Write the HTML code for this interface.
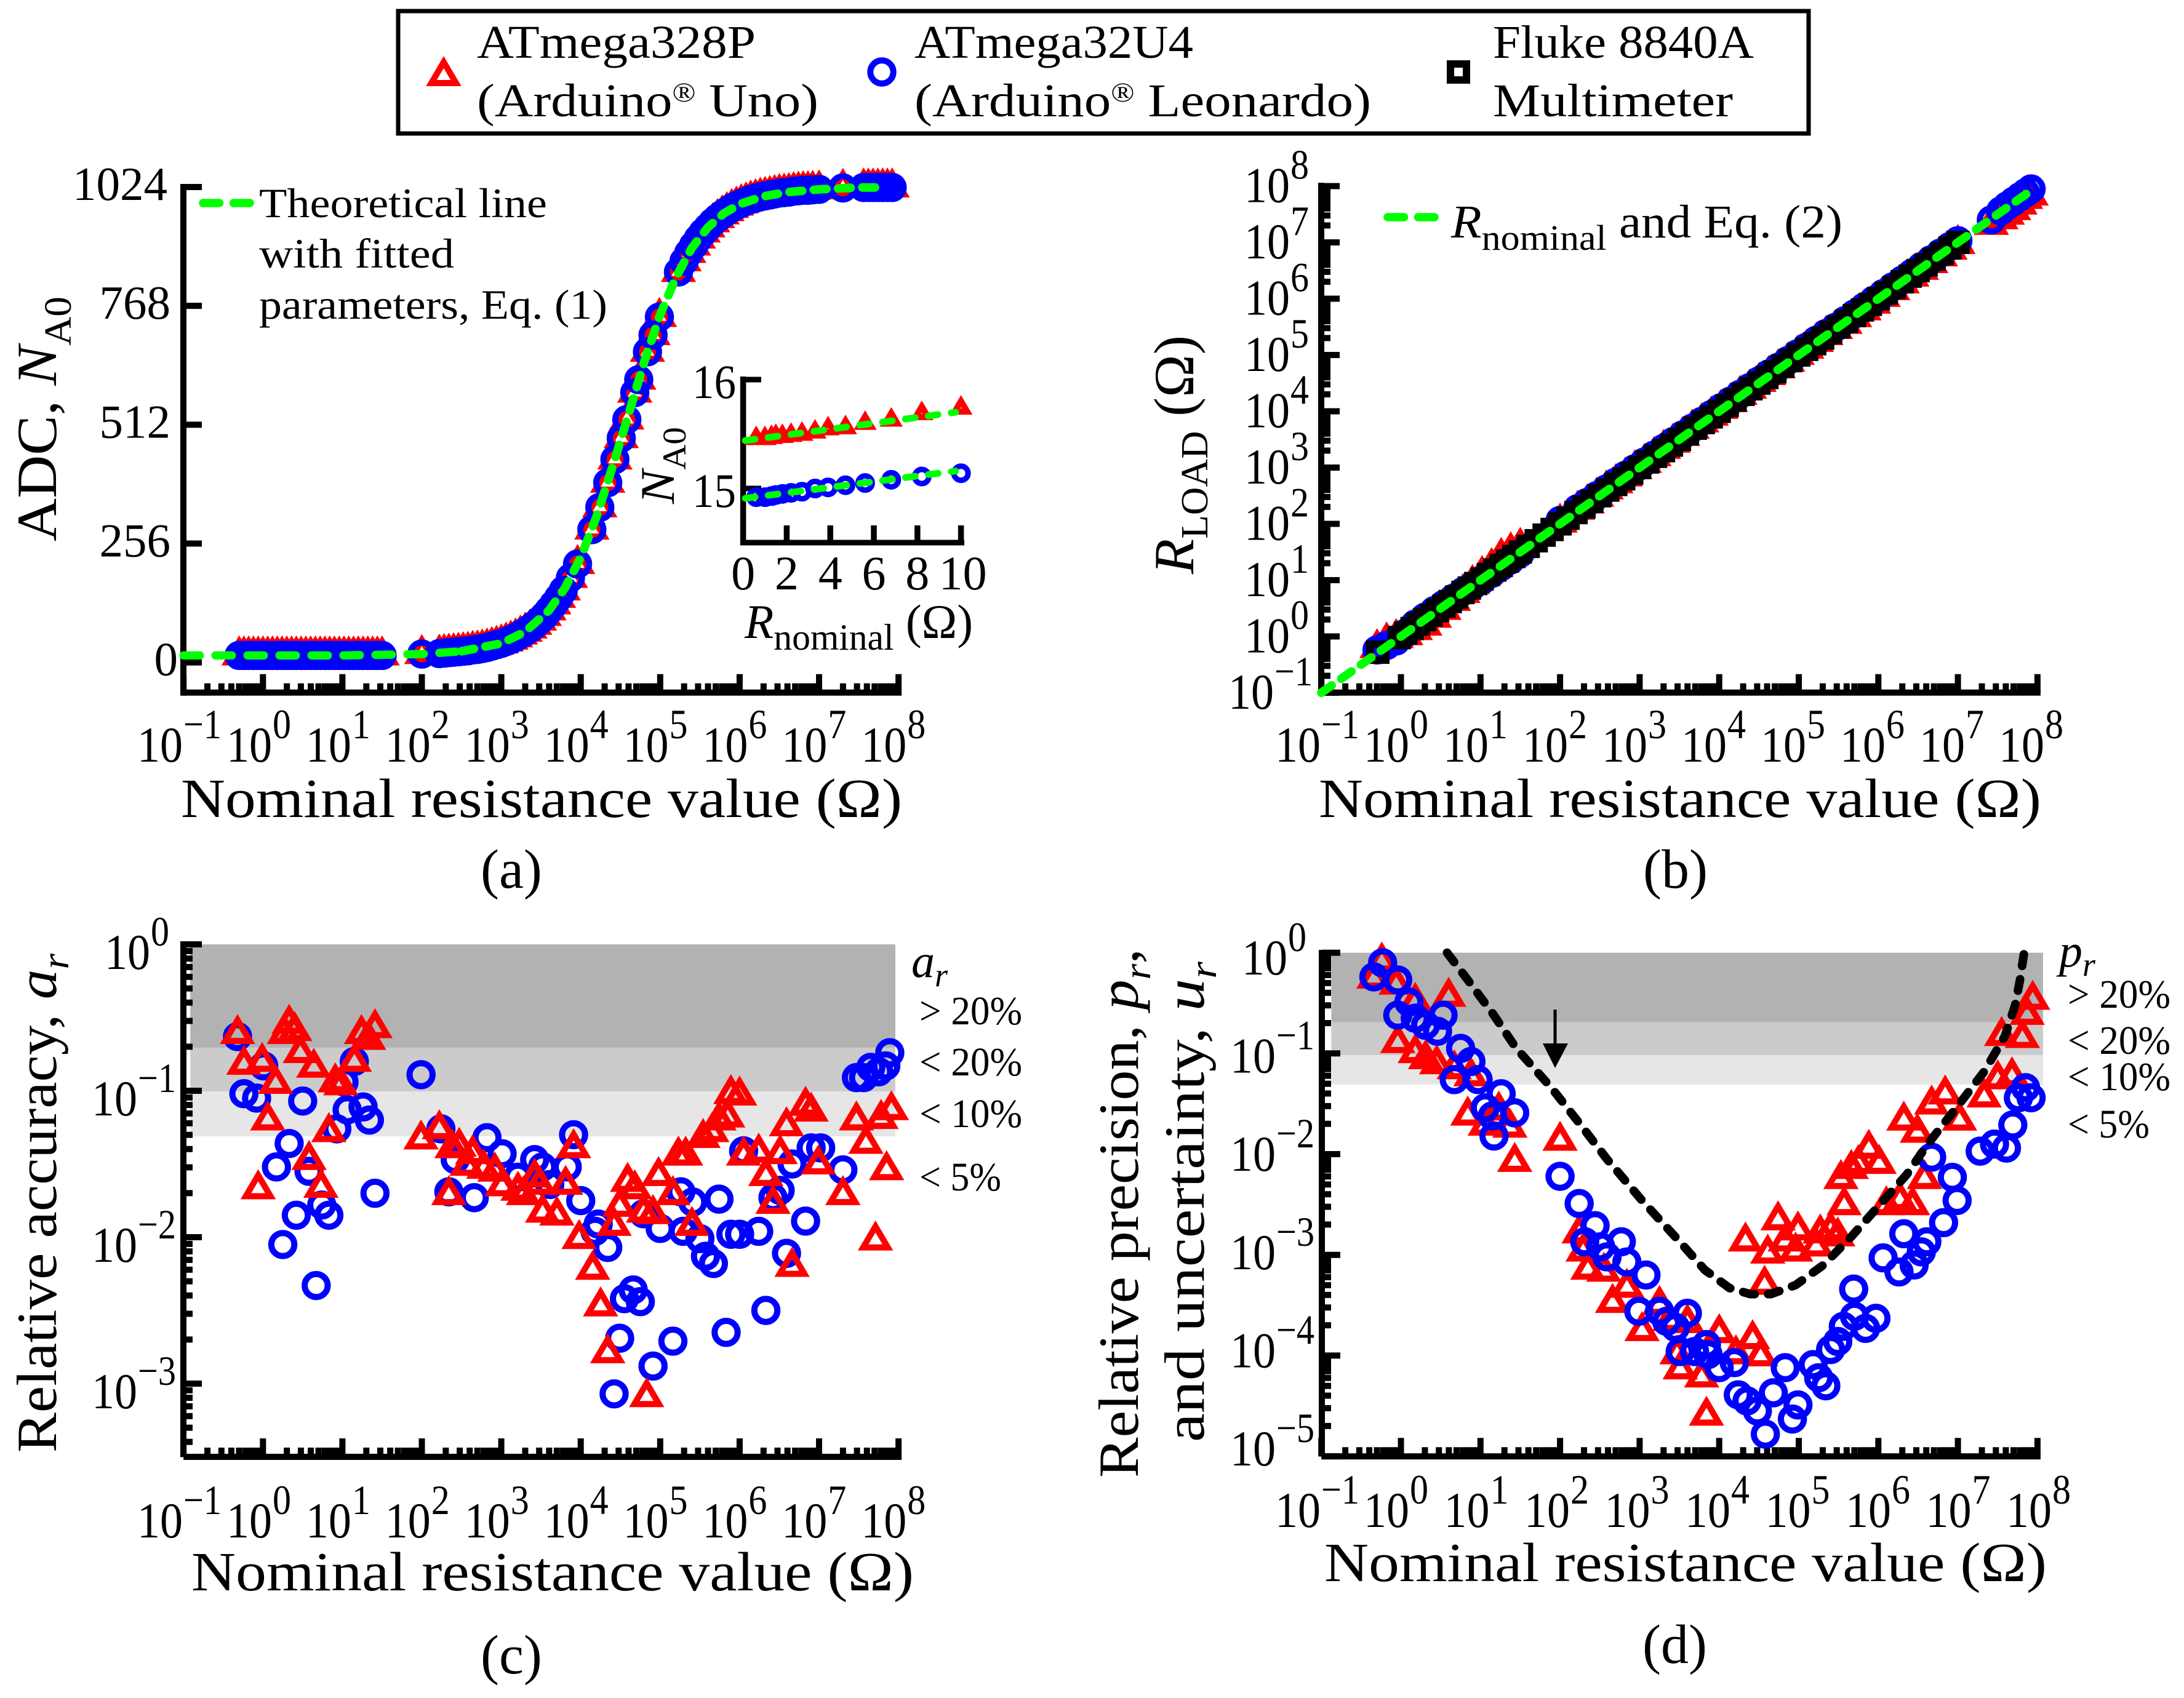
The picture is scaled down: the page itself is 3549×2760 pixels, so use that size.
<!DOCTYPE html>
<html lang="en">
<head>
<meta charset="utf-8">
<title>ADC resistance measurement charts</title>
<style>
html,body{margin:0;padding:0;background:#fff;width:3549px;height:2760px;overflow:hidden}
svg{display:block}
text{font-family:"Liberation Serif",serif;fill:#000}
</style>
</head>
<body>
<svg id="chart" xmlns="http://www.w3.org/2000/svg" width="3549" height="2760" viewBox="0 0 3549 2760">
<rect x="0" y="0" width="3549" height="2760" fill="#fff"/>

<g>
<rect x="647" y="18" width="2292" height="199" fill="#fff" stroke="#000" stroke-width="7"/>
<path d="M721 101 L741 135 L701 135 Z" fill="none" stroke="#f00" stroke-width="10"/>
<circle cx="1433" cy="117" r="18.7" fill="none" stroke="#00f" stroke-width="10"/>
<rect x="2357" y="104" width="26" height="26" fill="none" stroke="#000" stroke-width="12"/>
<text x="775" y="94" font-size="76" textLength="453" lengthAdjust="spacingAndGlyphs">ATmega328P</text>
<text x="775" y="189" font-size="76" textLength="555" lengthAdjust="spacingAndGlyphs">(Arduino<tspan font-size="44" dy="-24">®</tspan><tspan dy="24"> Uno)</tspan></text>
<text x="1486" y="94" font-size="76" textLength="453" lengthAdjust="spacingAndGlyphs">ATmega32U4</text>
<text x="1486" y="189" font-size="76" textLength="742" lengthAdjust="spacingAndGlyphs">(Arduino<tspan font-size="44" dy="-24">®</tspan><tspan dy="24"> Leonardo)</tspan></text>
<text x="2426" y="94" font-size="76" textLength="424" lengthAdjust="spacingAndGlyphs">Fluke 8840A</text>
<text x="2426" y="189" font-size="76" textLength="390" lengthAdjust="spacingAndGlyphs">Multimeter</text>
</g>

<g id="panel-a">
<text transform="translate(91 880) rotate(-90)" font-size="92" textLength="398" lengthAdjust="spacingAndGlyphs">ADC, <tspan font-style="italic">N</tspan><tspan font-size="62" dy="24">A0</tspan></text>
<text x="294" y="1328" font-size="90" textLength="1172" lengthAdjust="spacingAndGlyphs">Nominal resistance value (Ω)</text>
<text x="781" y="1443" font-size="90">(a)</text>
<line x1="330" y1="330" x2="406" y2="330" stroke="#0f0" stroke-width="13.5" stroke-linecap="round" stroke-dasharray="26.5 23"/>
<text x="421" y="353" font-size="68" textLength="468" lengthAdjust="spacingAndGlyphs">Theoretical line</text>
<text x="421" y="435" font-size="68" textLength="317" lengthAdjust="spacingAndGlyphs">with fitted</text>
<text x="421" y="518" font-size="68" textLength="566" lengthAdjust="spacingAndGlyphs">parameters, Eq. (1)</text>
<text transform="translate(1095 819) rotate(-90)" font-size="78" textLength="125" lengthAdjust="spacingAndGlyphs"><tspan font-style="italic">N</tspan><tspan font-size="54" dy="19">A0</tspan></text>
<text x="1210" y="1037" font-size="78" textLength="371" lengthAdjust="spacingAndGlyphs"><tspan font-style="italic">R</tspan><tspan font-size="60" dy="19">nominal</tspan><tspan dy="-19"> (Ω)</tspan></text>
</g>

<g id="panel-b">
<text transform="translate(1939 933) rotate(-90)" font-size="92" textLength="388" lengthAdjust="spacingAndGlyphs"><tspan font-style="italic">R</tspan><tspan font-size="62" dy="23">LOAD</tspan><tspan dy="-23"> (Ω)</tspan></text>
<text x="2143" y="1328" font-size="90" textLength="1174" lengthAdjust="spacingAndGlyphs">Nominal resistance value (Ω)</text>
<text x="2670" y="1443" font-size="90">(b)</text>
<line x1="2255" y1="353" x2="2331" y2="353" stroke="#0f0" stroke-width="13.5" stroke-linecap="round" stroke-dasharray="26.5 23"/>
<text x="2358" y="386" font-size="76" textLength="636" lengthAdjust="spacingAndGlyphs"><tspan font-style="italic">R</tspan><tspan font-size="58" dy="20">nominal</tspan><tspan dy="-20"> and Eq. (2)</tspan></text>
</g>

<g id="panel-c">
<text transform="translate(91 2361) rotate(-90)" font-size="92" textLength="811" lengthAdjust="spacingAndGlyphs">Relative accuracy, <tspan font-style="italic">a</tspan><tspan font-style="italic" font-size="62" dy="20">r</tspan></text>
<text x="311" y="2585" font-size="90" textLength="1174" lengthAdjust="spacingAndGlyphs">Nominal resistance value (Ω)</text>
<text x="781" y="2720" font-size="90">(c)</text>
<text x="1481" y="1588" font-size="76" font-style="italic">a<tspan font-size="54" dy="15">r</tspan></text>
<text x="1494" y="1665" font-size="66" textLength="167" lengthAdjust="spacingAndGlyphs">&gt; 20%</text>
<text x="1494" y="1748" font-size="66" textLength="167" lengthAdjust="spacingAndGlyphs">&lt; 20%</text>
<text x="1494" y="1832" font-size="66" textLength="167" lengthAdjust="spacingAndGlyphs">&lt; 10%</text>
<text x="1494" y="1935" font-size="66" textLength="133" lengthAdjust="spacingAndGlyphs">&lt; 5%</text>
</g>

<g id="panel-d">
<text transform="translate(1849 2402) rotate(-90)" font-size="92" textLength="860" lengthAdjust="spacingAndGlyphs">Relative precision, <tspan font-style="italic">p</tspan><tspan font-style="italic" font-size="62" dy="20">r</tspan><tspan dy="-20">,</tspan></text>
<text transform="translate(1956 2344) rotate(-90)" font-size="92" textLength="781" lengthAdjust="spacingAndGlyphs">and uncertainty, <tspan font-style="italic">u</tspan><tspan font-style="italic" font-size="62" dy="20">r</tspan></text>
<text x="2152" y="2570" font-size="90" textLength="1174" lengthAdjust="spacingAndGlyphs">Nominal resistance value (Ω)</text>
<text x="2669" y="2703" font-size="90">(d)</text>
<text x="3346" y="1571" font-size="76" font-style="italic">p<tspan font-size="54" dy="15">r</tspan></text>
<text x="3360" y="1638" font-size="66" textLength="167" lengthAdjust="spacingAndGlyphs">&gt; 20%</text>
<text x="3360" y="1713" font-size="66" textLength="167" lengthAdjust="spacingAndGlyphs">&lt; 20%</text>
<text x="3360" y="1772" font-size="66" textLength="167" lengthAdjust="spacingAndGlyphs">&lt; 10%</text>
<text x="3360" y="1849" font-size="66" textLength="133" lengthAdjust="spacingAndGlyphs">&lt; 5%</text>
</g>

<g id="overlay-d"></g>

<script>
// ---------- Panel (a): log10 nominal resistance and ADC counts ----------
const aLogR = [-0.30,-0.24,-0.18,-0.12,-0.06,0,0.06,0.12,0.18,0.24,0.30,0.36,0.42,0.48,0.54,0.60,0.66,0.72,0.78,0.84,0.90,0.96,1.02,1.08,1.14,1.20,1.26,1.32,1.38,1.44,1.50,2.00,2.22,2.28,2.34,2.40,2.46,2.52,2.58,2.64,2.70,2.76,2.82,2.88,2.94,3.00,3.06,3.12,3.18,3.24,3.30,3.36,3.42,3.48,3.54,3.60,3.66,3.72,3.78,3.87,3.96,4.14,4.24,4.34,4.43,4.51,4.58,4.68,4.73,4.84,4.91,4.99,5.23,5.30,5.36,5.42,5.48,5.54,5.60,5.66,5.72,5.78,5.84,5.90,5.96,6.02,6.08,6.14,6.20,6.26,6.32,6.38,6.44,6.50,6.56,6.62,6.68,6.74,6.80,6.86,6.92,7.00,7.30,7.56,7.62,7.68,7.74,7.80,7.86,7.92];
const aBlueN = [15,15,15,15,15,15,15,15,15,15,15,15,15,15,15,15,15,15,15,15,15,15,15,15,15,15,15,15,15,15,15,18,19,20,21,22,23,24,25,27,28,30,32,35,38,41,45,49,54,60,66,73,81,90,100,112,125,139,155,182,212,286,334,387,437,483,523,581,609,669,705,744,841,864,882,898,913,926,937,948,957,965,972,979,984,989,993,997,1000,1003,1005,1007,1009,1011,1012,1013,1015,1016,1017,1017,1018,1019,1022,1023,1023,1023,1023,1023,1023,1023];
const aRedN = [16,16,16,16,16,16,16,16,16,16,16,16,16,16,16,16,16,16,16,16,16,16,16,16,16,16,16,16,16,16,16,19,20,21,22,23,24,25,26,28,29,31,33,36,39,42,46,50,55,61,67,74,82,91,101,113,126,140,156,183,213,287,335,388,438,484,524,582,610,670,706,745,842,865,883,899,914,927,938,949,958,966,973,980,985,990,994,998,1001,1004,1006,1008,1010,1012,1013,1014,1016,1017,1018,1018,1019,1020,1023,1024,1024,1024,1024,1024,1024,1024];
const aLowLineR = [-1,0,1,2,2.5];
const aLowLineN = [15,15,15,18,24];
const aLineLogR = [2.5,3,3.3,3.6,3.8,4,4.2,4.4,4.6,4.8,5,5.2,5.4,5.6,5.8,6,6.3,6.6,7,7.5,7.85];
const aLineN = [24,41,66,112,160,226,315,421,533,648,749,830,893,937,967,987,1004,1013,1019,1023,1023];
const aYTicks = [0,256,512,768,1024];

// ---------- Inset of (a): ohms and ADC counts ----------
const insetR = [0.6,1,1.3,1.5,1.8,2.2,2.7,3.3,3.9,4.7,5.6,6.8,8.2,10];
const insetRedN = [15.48,15.48,15.49,15.50,15.50,15.51,15.52,15.54,15.57,15.58,15.62,15.65,15.71,15.76];
const insetBlueN = [14.92,14.92,14.93,14.94,14.95,14.96,14.97,15.00,15.01,15.03,15.05,15.08,15.11,15.14];
const insetLineR = [0.1,9.75];
const insetRedLine = [15.44,15.70];
const insetBlueLine = [14.91,15.16];
const insetXTicks = [0,2,4,6,8,10];
const insetYTicks = [15,16];

// ---------- Panel (b): log10 values ----------
const bLogR = [-0.30,-0.18,-0.06,0.06,0.18,0.30,0.42,0.54,0.66,0.78,0.90,1.02,1.14,1.26,1.38,1.50,2.00,2.22,2.34,2.46,2.58,2.70,2.82,2.94,3.06,3.18,3.30,3.42,3.54,3.66,3.78,3.90,4.02,4.14,4.26,4.38,4.50,4.62,4.74,4.86,4.98,5.10,5.22,5.34,5.46,5.58,5.70,5.82,5.94,6.06,6.18,6.30,6.42,6.54,6.66,6.78,6.90,7.00,7.42,7.54,7.62,7.70,7.78,7.85,7.92];
const bRedY = [-0.20,-0.08,-0.02,0.03,0.12,0.20,0.34,0.48,0.64,0.78,0.94,1.10,1.24,1.42,1.52,1.60,2.03,2.26,2.37,2.49,2.62,2.73,2.85,2.98,3.09,3.21,3.34,3.45,3.57,3.70,3.81,3.93,4.05,4.17,4.30,4.41,4.53,4.65,4.77,4.89,5.01,5.12,5.24,5.36,5.47,5.56,5.68,5.80,5.92,6.04,6.16,6.28,6.40,6.52,6.64,6.76,6.88,6.98,7.32,7.42,7.50,7.58,7.68,7.78,7.84];
const bBlueY = [-0.24,-0.16,-0.08,0.06,0.22,0.34,0.46,0.57,0.68,0.80,0.90,1.00,1.12,1.24,1.36,1.48,2.06,2.27,2.38,2.50,2.62,2.74,2.86,2.98,3.10,3.22,3.34,3.46,3.58,3.70,3.82,3.94,4.06,4.18,4.30,4.42,4.54,4.66,4.78,4.90,5.02,5.14,5.26,5.38,5.49,5.61,5.73,5.85,5.97,6.09,6.21,6.33,6.45,6.57,6.69,6.81,6.93,7.03,7.40,7.56,7.65,7.73,7.81,7.88,7.95];
const bBlackR = [-0.29,-0.02,0.06,0.14,0.22,0.30,0.38,0.46,0.54,0.62,0.70,0.78,0.86,0.94,1.02,1.10,1.18,1.26,1.34,1.42,1.50,1.60,1.70,1.80,1.90,2.00,2.10,2.20,2.30,2.40,2.50,2.60,2.70,2.80,2.90,3.00,3.10,3.20,3.30,3.40,3.50,3.60,3.70,3.80,3.90,4.00,4.10,4.20,4.30,4.40,4.50,4.60,4.70,4.80,4.90,5.00,5.10,5.20,5.30,5.40,5.50,5.60,5.70,5.80,5.90,6.00,6.10,6.20,6.30,6.40,6.50,6.60,6.70,6.80,6.90,7.00];
const bBlackY = [-0.28,-0.02,0.06,0.14,0.22,0.30,0.38,0.46,0.54,0.62,0.70,0.78,0.86,0.94,1.02,1.10,1.18,1.26,1.34,1.42,1.50,1.60,1.70,1.80,1.90,2.00,2.10,2.20,2.30,2.40,2.50,2.60,2.70,2.80,2.90,3.00,3.10,3.20,3.30,3.40,3.50,3.60,3.70,3.80,3.90,4.00,4.10,4.20,4.30,4.40,4.50,4.60,4.70,4.80,4.90,5.00,5.10,5.20,5.30,5.40,5.50,5.60,5.70,5.80,5.90,6.00,6.10,6.20,6.30,6.40,6.50,6.60,6.70,6.80,6.90,7.00];
const bLineR = [-1,7.93];
const bLineY = [-1,7.93];

// ---------- Panel (c): log10 values ----------
const cRedR = [-0.32,-0.24,-0.01,0.16,0.06,-0.06,0.27,0.33,0.40,0.47,0.64,0.58,0.73,0.83,0.91,0.98,1.15,1.24,1.33,1.41,1.99,2.22,2.34,2.38,2.47,2.57,2.64,2.78,2.92,3.01,3.21,3.28,3.42,3.48,3.52,3.70,3.81,3.91,3.98,4.15,4.25,4.34,4.42,4.49,4.59,4.68,4.79,4.91,4.83,4.98,5.16,5.23,5.32,5.40,5.54,5.65,5.74,5.85,5.89,6.00,6.05,6.24,6.33,6.42,6.51,6.59,6.66,6.83,6.90,6.99,7.30,7.47,7.59,7.71,7.78,7.85,7.91];
const cRedA = [-0.58,-0.79,-0.77,-0.92,-1.17,-1.64,-0.58,-0.51,-0.56,-0.71,-0.81,-1.44,-1.63,-1.25,-0.91,-0.93,-0.77,-0.58,-0.62,-0.54,-1.30,-1.23,-1.68,-1.36,-1.35,-1.48,-1.40,-1.50,-1.52,-1.62,-1.65,-1.68,-1.56,-1.61,-1.80,-1.82,-1.61,-1.36,-1.98,-2.19,-2.44,-2.76,-1.89,-1.76,-1.59,-1.64,-1.80,-1.81,-3.06,-1.55,-1.68,-1.41,-1.41,-1.89,-1.29,-1.25,-1.17,-1.15,-0.99,-1.00,-1.41,-1.39,-1.55,-1.74,-1.40,-1.21,-2.17,-1.07,-1.11,-1.47,-1.68,-1.17,-1.33,-1.99,-1.16,-1.51,-1.10];
const cBlueR = [-0.32,-0.24,-0.08,0.01,0.17,0.25,0.33,0.42,0.50,0.58,0.67,0.74,0.83,0.93,1.02,1.06,1.15,1.26,1.34,1.41,1.99,2.24,2.34,2.42,2.66,2.82,3.01,3.21,3.42,3.52,3.61,3.83,3.91,4.00,4.18,4.22,4.34,4.49,4.42,4.55,4.66,4.75,4.79,4.91,5.00,5.16,5.29,5.26,5.41,5.50,5.57,5.67,5.74,5.83,5.89,6.00,6.05,6.24,6.33,6.42,6.51,6.59,6.66,6.83,6.90,7.02,7.30,7.47,7.56,7.65,7.75,7.84,7.89];
const cBlueA = [-0.63,-1.02,-1.05,-0.83,-1.52,-2.05,-1.36,-1.85,-1.07,-1.55,-2.33,-1.78,-1.85,-1.26,-0.94,-1.13,-0.80,-1.11,-1.20,-1.70,-0.89,-1.26,-1.69,-1.47,-1.73,-1.32,-1.43,-1.59,-1.47,-1.52,-1.64,-1.52,-1.30,-1.75,-1.96,-1.91,-2.07,-2.69,-3.07,-2.42,-2.36,-2.44,-1.84,-2.88,-1.94,-2.71,-1.96,-1.69,-1.76,-2.01,-2.13,-2.18,-1.74,-2.65,-1.98,-1.98,-1.41,-1.96,-2.50,-1.73,-1.68,-2.11,-1.50,-1.89,-1.39,-1.39,-1.54,-0.91,-0.91,-0.84,-0.87,-0.83,-0.74];

// ---------- Panel (d): log10 values ----------
const dRedR = [-0.24,-0.34,-0.06,0.18,0.60,-0.04,0.18,0.31,0.45,0.67,0.88,0.84,1.06,1.23,1.37,1.43,2.00,2.24,2.29,2.35,2.55,2.84,2.66,3.03,3.25,3.38,3.60,3.47,3.51,3.78,4.00,4.21,4.42,4.52,3.84,4.33,4.57,4.61,4.74,4.83,4.96,4.99,5.22,5.27,5.40,5.49,5.53,5.66,5.57,5.75,5.88,6.01,6.10,6.27,6.43,6.32,6.49,6.58,6.67,6.84,7.02,7.33,7.50,7.68,7.55,7.81,7.87,7.94];
const dRedP = [-0.04,-0.21,-0.27,-0.44,-0.39,-0.85,-0.95,-1.01,-1.06,-1.11,-1.18,-1.57,-1.67,-1.52,-1.69,-2.03,-1.82,-2.74,-2.92,-3.10,-3.12,-3.28,-3.43,-3.71,-3.45,-3.61,-3.63,-3.94,-4.09,-4.17,-3.73,-3.94,-3.79,-3.96,-4.55,-2.82,-3.25,-2.94,-2.61,-2.82,-2.92,-2.71,-2.87,-2.74,-2.71,-2.77,-2.20,-2.10,-2.46,-2.05,-1.90,-2.05,-2.46,-2.41,-2.46,-1.62,-1.74,-2.20,-1.46,-1.36,-1.62,-1.39,-1.21,-1.18,-0.78,-0.80,-0.57,-0.42];
const dBlueR = [-0.34,-0.23,-0.04,0.10,-0.04,0.18,0.31,0.53,0.46,0.75,0.67,0.88,0.97,1.26,1.06,1.15,1.17,1.43,2.00,2.24,2.44,2.31,2.51,2.59,2.77,2.84,3.08,2.99,3.25,3.34,3.45,3.60,3.51,3.69,3.84,3.86,4.00,4.19,4.24,4.35,4.48,4.58,4.68,4.83,4.92,4.99,5.18,5.25,5.34,5.40,5.49,5.56,5.69,5.70,5.84,5.97,6.06,6.26,6.32,6.45,6.54,6.61,6.82,6.67,6.93,6.99,7.28,7.46,7.61,7.69,7.76,7.85,7.92];
const dBlueP = [-0.24,-0.10,-0.27,-0.49,-0.62,-0.65,-0.72,-0.62,-0.78,-0.95,-1.26,-1.08,-1.26,-1.40,-1.54,-1.62,-1.82,-1.59,-2.22,-2.49,-2.71,-2.87,-2.92,-3.02,-2.87,-3.07,-3.20,-3.56,-3.56,-3.66,-3.72,-3.58,-3.96,-3.96,-3.89,-3.99,-4.12,-4.07,-4.39,-4.45,-4.55,-4.78,-4.37,-4.12,-4.63,-4.49,-4.09,-4.22,-4.30,-3.94,-3.86,-3.71,-3.34,-3.61,-3.73,-3.63,-3.03,-3.17,-2.79,-3.10,-2.97,-2.87,-2.68,-2.03,-2.23,-2.46,-1.97,-1.90,-1.94,-1.71,-1.44,-1.34,-1.44];
const dCurveR = [0.58,0.84,1.15,1.45,1.89,2.24,2.59,3.03,3.47,3.82,4.13,4.39,4.65,4.96,5.31,5.66,6.01,6.36,6.62,6.98,7.33,7.59,7.72,7.78,7.83];
const dCurveU = [0,-0.27,-0.60,-0.95,-1.34,-1.69,-2.05,-2.46,-2.84,-3.15,-3.33,-3.39,-3.39,-3.30,-3.10,-2.82,-2.51,-2.20,-1.90,-1.54,-1.18,-0.83,-0.52,-0.27,-0.01];

// ---------- Shared axis data ----------
const xDecades = [-1,0,1,2,3,4,5,6,7,8];
const minorSteps = [2,3,4,5,6,7,8,9];
const bYDecades = [-1,0,1,2,3,4,5,6,7,8];
const cYDecades = [0,-1,-2,-3];
const dYDecades = [0,-1,-2,-3,-4,-5];
const cBandLimits = [1,0.197,0.099,0.0489];
const dBandLimits = [1,0.2037,0.0963,0.0492];
const bandFills = ['#b2b2b2','#cbcbcb','#e6e6e6'];

// ---------- Axis functions ----------
const xLeft = v => 427.3 + v * 129.1;
const xRight = v => 2276.5 + v * 129.3;
const yA = n => 1076.7 - n * 0.7546;
const yB = v => 1034.5 - v * 91.5;
const yC = v => 1535 - v * 238;
const yD = v => 1548.6 - v * 163.7;
const xInset = r => 1207.6 + r * 35.4;
const yInset = n => 617 + (16 - n) * 177;

const NS = 'http://www.w3.org/2000/svg';
function make(tag, attrs, parent) {
  const e = document.createElementNS(NS, tag);
  for (const k in attrs) e.setAttribute(k, attrs[k]);
  parent.appendChild(e);
  return e;
}
function tri(parent, x, y, k) {
  const p = 'M' + x + ' ' + (y - 15 * k) + 'L' + (x + 20 * k) + ' ' + (y + 19 * k) + 'L' + (x - 20 * k) + ' ' + (y + 19 * k) + 'Z';
  return make('path', {d: p, fill: 'none', stroke: '#f00', 'stroke-width': 10}, parent);
}
function ring(parent, x, y, r, w) {
  return make('circle', {cx: x, cy: y, r: r, fill: 'none', stroke: '#00f', 'stroke-width': w}, parent);
}
function line(parent, x1, y1, x2, y2, w) {
  return make('line', {x1: x1, y1: y1, x2: x2, y2: y2, stroke: '#000', 'stroke-width': w}, parent);
}
function pathFrom(xs, ys, fx, fy) {
  return xs.map((v, i) => (i ? 'L' : 'M') + fx(v).toFixed(1) + ' ' + fy(ys[i]).toFixed(1)).join('');
}
function dashed(parent, xs, ys, fx, fy, color, width, dash) {
  return make('path', {d: pathFrom(xs, ys, fx, fy), fill: 'none', stroke: color, 'stroke-width': width, 'stroke-linecap': 'round', 'stroke-linejoin': 'round', 'stroke-dasharray': dash}, parent);
}
function power(parent, x, y, exp, supDy) {
  const g = make('g', {}, parent);
  const base = make('text', {x: x, y: y, 'font-size': 82, textLength: 74, lengthAdjust: 'spacingAndGlyphs'}, g);
  base.textContent = '10';
  const sup = make('text', {x: x + 75, y: y - supDy, 'font-size': 68, textLength: exp < 0 ? 62 : 30, lengthAdjust: 'spacingAndGlyphs'}, g);
  sup.textContent = exp < 0 ? '\u2212' + (-exp) : String(exp);
  return g;
}

// ---------- Panel scaffolding ----------
function drawXAxis(parent, fx, axisY, labelY, labelPos) {
  const axis = line(parent, fx(-1), axisY, fx(8) + 5, axisY, 10);
  
  
  xDecades.forEach((d, i) => {
    const t = line(parent, fx(d), axisY, fx(d), axisY - 30, 10);
    
    
    if (d < 8) minorSteps.forEach(m => {
      const mt = line(parent, fx(d + Math.log10(m)), axisY, fx(d + Math.log10(m)), axisY - 15, 10);
      
      
    });
    const lab = power(parent, labelPos(d, i), labelY, d, 38);
    
    
  });
}
function drawLogY(parent, decades, axisX, fy, labelStart, labelBase) {
  const hi = Math.max(...decades);
  decades.forEach(d => {
    const t = line(parent, axisX, fy(d), axisX + 30, fy(d), 10);
    
    
    const lab = power(parent, labelStart(d), labelBase(d), d, 38);
    
    
    if (d < hi) minorSteps.forEach(m => {
      const mt = line(parent, axisX, fy(d + Math.log10(m)), axisX + 15, fy(d + Math.log10(m)), 10);
      
      
    });
  });
}
function drawBands(parent, limits, fx, fy, xFrom, xTo) {
  bandFills.forEach((fill, i) => {
    const top = fy(Math.log10(limits[i])), bot = fy(Math.log10(limits[i + 1]));
    const r = make('rect', {x: fx(xFrom), y: top, width: fx(xTo) - fx(xFrom), height: bot - top, fill: fill}, parent);
    
    
  });
}

const pa = document.getElementById('panel-a');
const pb = document.getElementById('panel-b');
const pc = document.getElementById('panel-c');
const pd = document.getElementById('panel-d');
const leftLabels = d => d === -1 ? 223 : 368 + d * 128.9;
const rightLabels = d => d === -1 ? 2072 : 2216 + d * 129;

// ---------- Panel (a) ----------
{
  const axisY = line(pa, 298, 299, 298, 1130.7, 10);
  
  
  drawXAxis(pa, xLeft, 1125.7, 1238, leftLabels);
  aYTicks.forEach(v => {
    const t = line(pa, 298, yA(v), 328, yA(v), 10);
    
    
    const lab = make('text', {x: v === 0 ? 289 : v === 1024 ? 272 : 277, y: yA(v) + 21, 'font-size': 77, 'text-anchor': 'end'}, pa);
    lab.textContent = String(v);
    
    
  });
  aLogR.forEach((r, i) => {
    const m = tri(pa, xLeft(r), yA(aRedN[i]) - 7, 1);
    
    
  });
  aLogR.forEach((r, i) => {
    const m = ring(pa, xLeft(r), yA(aBlueN[i]), 18.7, 10);
    
    
  });
  const thLow = dashed(pa, aLowLineR, aLowLineN, xLeft, yA, '#0f0', 13.5, '26.5 25.5');
  
  
  const th = dashed(pa, aLineLogR, aLineN, xLeft, yA, '#0f0', 14, '20.5 19');
  
  

  // inset
  const ia = line(pa, 1207.6, 612, 1207.6, 886, 9.5);
  
  
  const ib = line(pa, 1203, 882, 1567, 882, 9);
  
  
  insetYTicks.forEach(v => {
    const t = line(pa, 1207.6, yInset(v), 1237, yInset(v), 9);
    
    
    const lab = make('text', {x: 1125, y: yInset(v) + 30, 'font-size': 78, textLength: 71, lengthAdjust: 'spacingAndGlyphs'}, pa);
    lab.textContent = String(v);
    
    
  });
  insetXTicks.forEach(v => {
    if (v > 0) {
      const t = line(pa, xInset(v), 882, xInset(v), 854, 9.5);
      
      
    }
    const lab = make('text', {x: xInset(v) + (v === 10 ? 3 : 0), y: 958, 'font-size': 78, 'text-anchor': 'middle'}, pa);
    lab.textContent = String(v);
    
    
  });
  insetR.forEach((r, i) => {
    const m = tri(pa, xInset(r), yInset(insetRedN[i]), 0.5);
    
    
  });
  insetR.forEach((r, i) => {
    const m = ring(pa, xInset(r), yInset(insetBlueN[i]), 11.5, 9);
    
    
  });
  const l1 = dashed(pa, insetLineR, insetRedLine, xInset, yInset, '#0f0', 11, '16 21.5');
  
  
  const l2 = dashed(pa, insetLineR, insetBlueLine, xInset, yInset, '#0f0', 11, '16 21.5');
  
  
}

// ---------- Panel (b) ----------
{
  const axisY = line(pb, 2147, 297, 2147, 1130.7, 10);
  
  
  drawXAxis(pb, xRight, 1125.7, 1238, rightLabels);
  drawLogY(pb, bYDecades, 2147, yB, d => d === -1 ? 1996 : 2022, d => yB(d) + 26);
  bLogR.forEach((r, i) => {
    const m = tri(pb, xRight(r), yB(bRedY[i]) - 7, 1);
    
    
  });
  bLogR.forEach((r, i) => {
    const m = ring(pb, xRight(r), yB(bBlueY[i]), 18.7, 10);
    
    
  });
  bBlackR.forEach((r, i) => {
    const m = make('rect', {x: xRight(r) - 13, y: yB(bBlackY[i]) - 13, width: 26, height: 26, fill: 'none', stroke: '#000', 'stroke-width': 12}, pb);
    
    
  });
  const th = dashed(pb, bLineR, bLineY, xRight, yB, '#0f0', 14, '20.5 19');
  
  
}

// ---------- Panel (c) ----------
{
  drawBands(pc, cBandLimits, xLeft, yC, -0.915, 7.96);
  const axisY = line(pc, 298, 1530, 298, 2368.5, 10);
  
  
  drawXAxis(pc, xLeft, 2368, 2499, leftLabels);
  drawLogY(pc, cYDecades, 298, yC, d => d === 0 ? 170 : 149, d => yC(d) + 40);
  const extra = [-4];
  extra.forEach(d => minorSteps.filter(m => m >= 4).forEach(m => {
    const mt = line(pc, 298, yC(d + Math.log10(m)), 313, yC(d + Math.log10(m)), 10);
    
    
  }));
  cBlueR.forEach((r, i) => {
    const m = ring(pc, xLeft(r), yC(cBlueA[i]), 18.7, 10);
    
    
  });
  cRedR.forEach((r, i) => {
    const m = tri(pc, xLeft(r), yC(cRedA[i]), 1);
    
    
  });
}

// ---------- Panel (d) ----------
{
  drawBands(pd, dBandLimits, xRight, yD, -0.875, 8.07);
  const axisY = line(pd, 2148, 1544, 2148, 2367.5, 10);
  
  
  drawXAxis(pd, xRight, 2367.3, 2482, d => d === -1 ? 2072 : 2216 + d * 130.5);
  drawLogY(pd, dYDecades, 2148, yD, d => d === 0 ? 2018 : 1999, d => 1584 - d * 159.6);
  dRedR.forEach((r, i) => {
    const m = tri(pd, xRight(r), yD(dRedP[i]), 1);
    
    
  });
  dBlueR.forEach((r, i) => {
    const m = ring(pd, xRight(r), yD(dBlueP[i]), 18.7, 10);
    
    
  });
  const cu = dashed(pd, dCurveR, dCurveU, xRight, yD, '#000', 14, '19 22');
  
  
  const ov = document.getElementById('overlay-d');
  const note = make('text', {x: 2432, y: 1621, 'font-size': 76, textLength: 750, lengthAdjust: 'spacingAndGlyphs'}, ov);
  note.innerHTML = '<tspan font-style="italic">u</tspan><tspan font-style="italic" font-size="54" dy="14">r</tspan><tspan dy="-14">(</tspan><tspan font-style="italic">R</tspan><tspan font-size="56" dy="19">LOAD</tspan><tspan dy="-19">) and Eq. (16)</tspan>';
  
  
  const shaft = line(ov, 2527, 1641, 2527, 1700, 5);
  
  
  const head = make('path', {d: 'M2507 1696L2548 1696L2527 1736Z', fill: '#000'}, ov);
  
  
}
</script>
</svg>
</body>
</html>
